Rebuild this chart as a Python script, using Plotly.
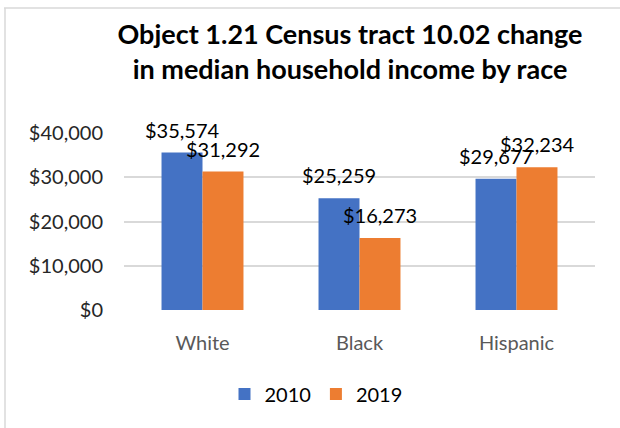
import plotly.graph_objects as go

# Median household income, Census tract 10.02
races = ["White", "Black", "Hispanic"]
income_2010 = [35574, 25259, 29677]
income_2019 = [31292, 16273, 32234]
series_names = ["2010", "2019"]
series_colors = ["#4472C4", "#ED7D31"]
y_ticks = [0, 10000, 20000, 30000, 40000]
y_tick_labels = [f"${v:,}" for v in y_ticks]

FONT = "Lato"
W, H = 620, 428
ML, MR, MT, MB = 124, 25, 133, 118

fig = go.Figure()
for name, vals, color in zip(series_names, [income_2010, income_2019], series_colors):
    fig.add_trace(go.Bar(
        name=name, x=races, y=vals, marker=dict(color=color, line=dict(width=0)),
        textposition="none", cliponaxis=False,
    ))

# value labels above each bar
bar_px = 41
for i, vals in enumerate([income_2010, income_2019]):
    shift = (-0.5 if i == 0 else 0.5) * bar_px
    for race, v in zip(races, vals):
        fig.add_annotation(
            x=race, y=v, text=f"${v:,}", showarrow=False,
            xanchor="center", yanchor="bottom", xshift=shift, yshift=9,
            font=dict(family=FONT, size=20, color="#000000"),
        )

# chart frame lines (top and left edges)
pw, ph = W - ML - MR, H - MT - MB
def px_x(p):
    return (p - ML) / pw
def px_y(p):
    return (H - MB - p) / ph
frame = dict(color="#d9d9d9", width=1.5)
fig.add_shape(type="line", xref="paper", yref="paper",
              x0=px_x(4), x1=px_x(625), y0=px_y(8), y1=px_y(8), line=frame)
fig.add_shape(type="line", xref="paper", yref="paper",
              x0=px_x(5), x1=px_x(5), y0=px_y(8), y1=px_y(435), line=frame)

fig.update_layout(
    width=W, height=H,
    margin=dict(l=ML, r=MR, t=MT, b=MB),
    paper_bgcolor="white", plot_bgcolor="white",
    barmode="group", bargap=0.478, bargroupgap=0,
    title=dict(
        text="Object 1.21 Census tract 10.02 change<br>in median household income by race",
        x=350 / W, xanchor="center", xref="container",
        y=1 - 44 / H, yanchor="top", yref="container",
        font=dict(family=FONT, size=27, color="#000000", weight="bold"),
    ),
    font=dict(family=FONT),
    legend=dict(
        orientation="h", x=px_x(316), xanchor="center", y=px_y(394), yanchor="middle",
        font=dict(family=FONT, size=20, color="#000000"),
        itemsizing="constant", traceorder="normal",
    ),
    showlegend=True,
)
fig.update_yaxes(
    range=[0, 40000], tickvals=y_ticks, ticktext=y_tick_labels,
    showgrid=True, gridcolor="#d9d9d9", gridwidth=1.5, zeroline=False, showline=False,
    ticks="", ticklabelstandoff=20,
    tickfont=dict(family=FONT, size=20, color="#262626"),
)
fig.update_xaxes(
    showgrid=False, showline=False, ticks="", ticklabelstandoff=19,
    tickfont=dict(family=FONT, size=20, color="#595959"),
)

fig.write_html("out.html")
